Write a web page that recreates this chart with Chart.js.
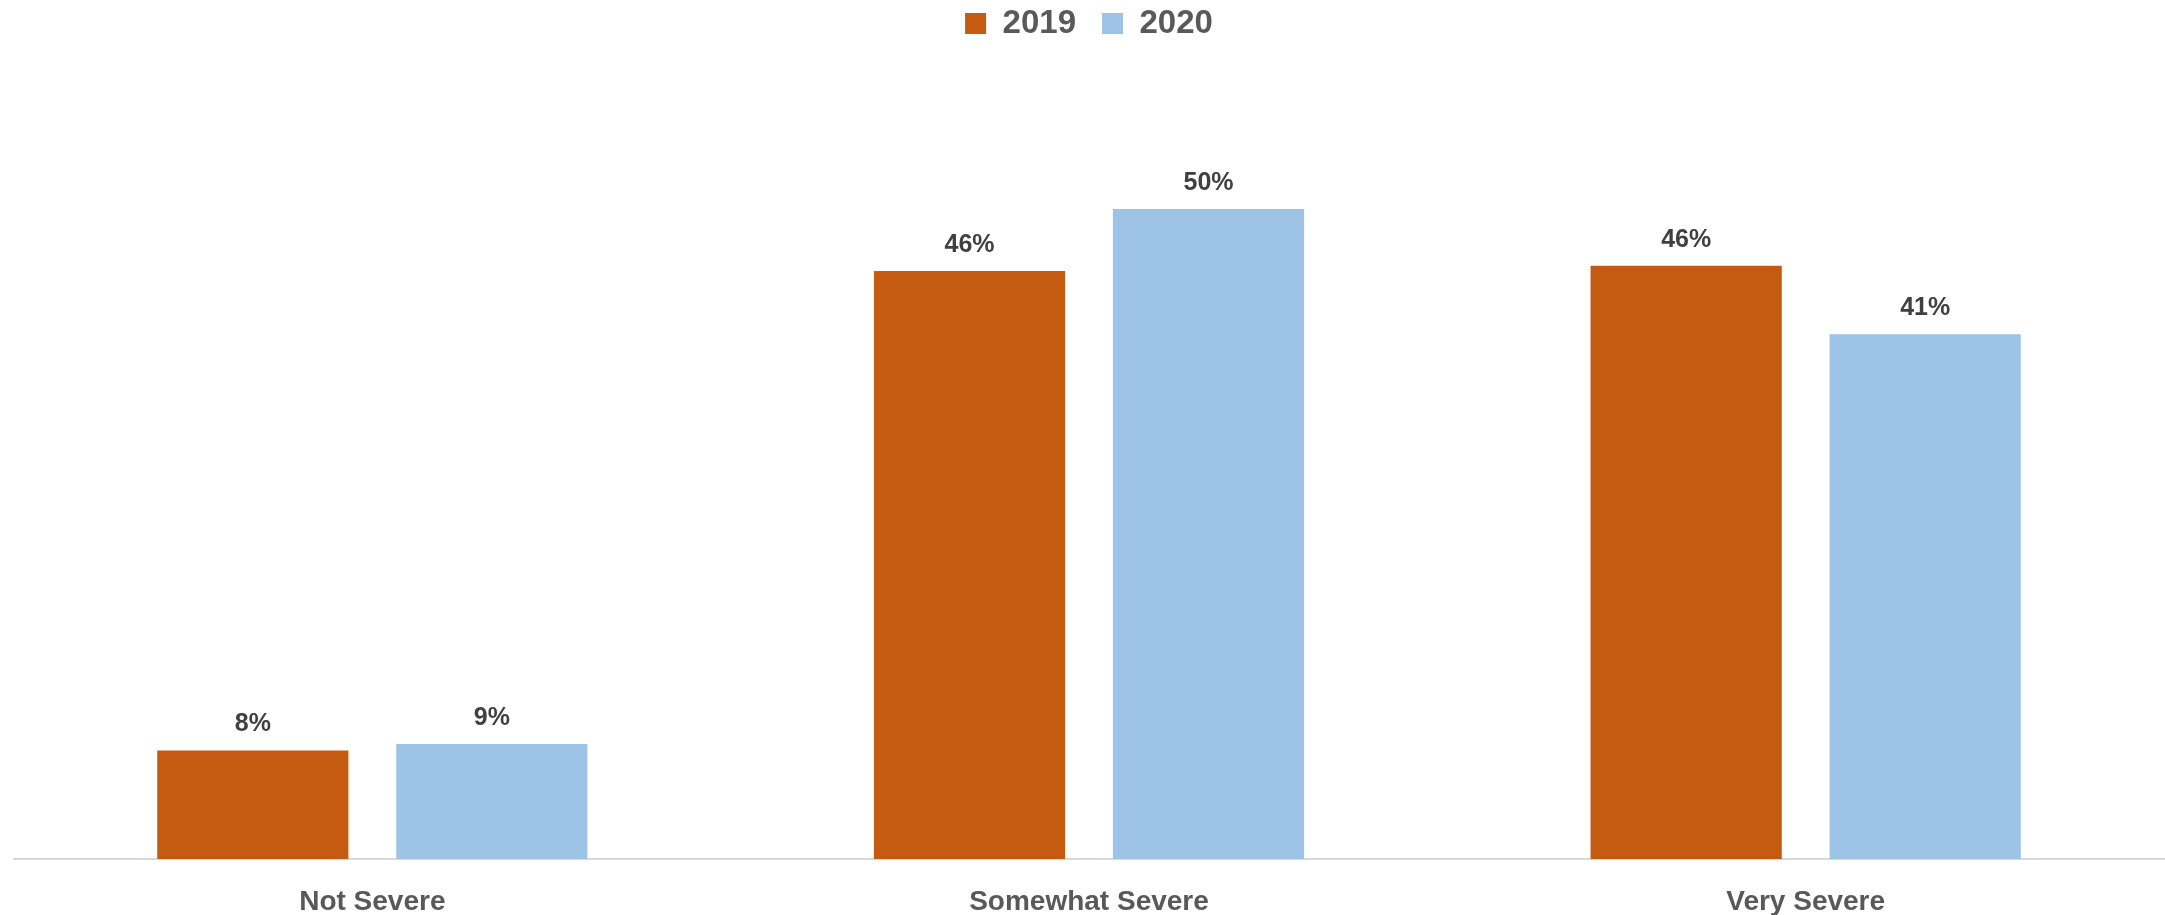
<!DOCTYPE html>
<html>
<head>
<meta charset="utf-8">
<script src="https://cdn.jsdelivr.net/npm/chart.js@4"></script>
<style>
  html, body { margin: 0; padding: 0; background: #fff; }
  #wrap { width: 2165px; height: 915px; position: relative; }
</style>
</head>
<body>
<div id="wrap"><canvas id="chart"></canvas></div>
<script>
const categories = ["Not Severe", "Somewhat Severe", "Very Severe"];
const seriesNames = ["2019", "2020"];
const values2019 = [8.4, 45.5, 45.9];
const values2020 = [8.9, 50.3, 40.6];

const FONT = "'Liberation Sans', Arial, sans-serif";

// draws the value on top of each bar
const barLabels = {
  id: "barLabels",
  afterDatasetsDraw(chart) {
    const ctx = chart.ctx;
    ctx.save();
    ctx.font = "bold 25px " + FONT;
    ctx.fillStyle = "#404040";
    ctx.textAlign = "center";
    ctx.textBaseline = "alphabetic";
    chart.data.datasets.forEach((ds, i) => {
      chart.getDatasetMeta(i).data.forEach((bar, j) => {
        ctx.fillText(Math.round(ds.data[j]) + "%", bar.x, bar.y - 19);
      });
    });
    ctx.restore();
  }
};

const ctx = document.getElementById("chart").getContext("2d");
new Chart(ctx, {
  type: "bar",
  data: {
    labels: categories,
    datasets: [
      { label: seriesNames[0], data: values2019, backgroundColor: "#C55A11" },
      { label: seriesNames[1], data: values2020, backgroundColor: "#9DC3E6" }
    ]
  },
  options: {
    responsive: true,
    maintainAspectRatio: false,
    animation: false,
    devicePixelRatio: 1,
    layout: { padding: { top: -19, left: 14, right: 1, bottom: 0 } },
    datasets: {
      bar: { categoryPercentage: 0.667, barPercentage: 0.8 }
    },
    plugins: {
      legend: {
        position: "top",
        labels: {
          boxWidth: 21,
          boxHeight: 21,
          padding: 26,
          color: "#595959",
          font: { family: FONT, size: 33, weight: "bold" }
        }
      },
      tooltip: { enabled: false }
    },
    scales: {
      x: {
        grid: { display: false, drawTicks: false },
        border: { display: true, color: "#D9D9D9", width: 2 },
        ticks: {
          padding: 26,
          color: "#595959",
          font: { family: FONT, size: 28, weight: "bold" }
        },
        afterFit(scale) { scale.height = 56; }
      },
      y: {
        display: false,
        min: 0,
        max: 62.6
      }
    }
  },
  plugins: [barLabels]
});
</script>
</body>
</html>
